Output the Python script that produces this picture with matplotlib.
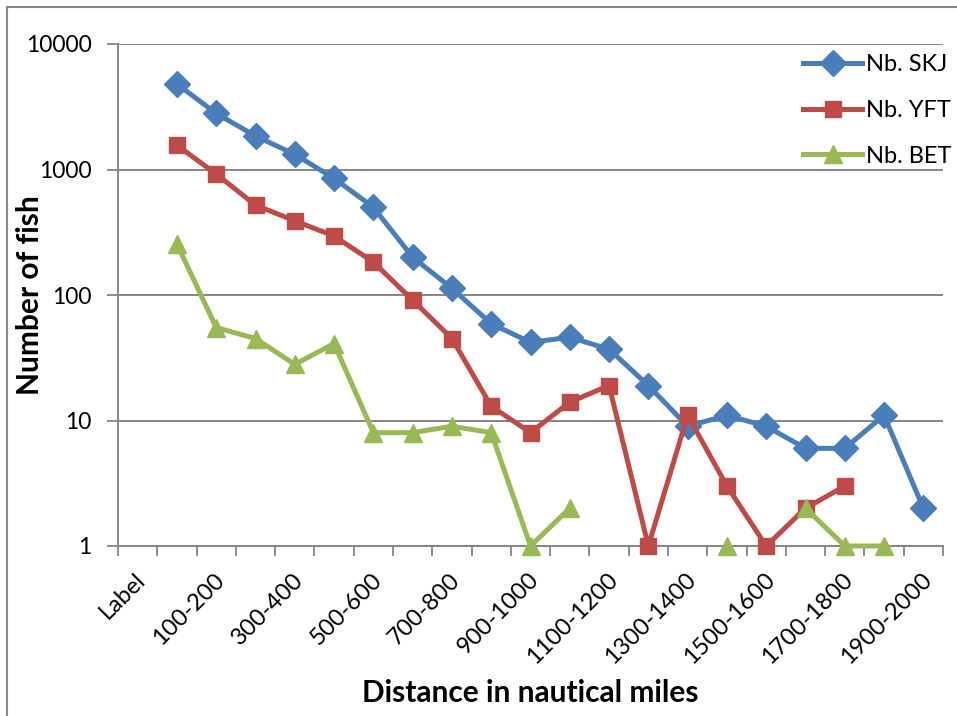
import numpy as np
import matplotlib
matplotlib.use("Agg")
import matplotlib.pyplot as plt
from matplotlib.patches import Rectangle
from matplotlib.transforms import ScaledTranslation

plt.rcParams['font.family'] = ['Lato', 'DejaVu Sans']

categories = ["Label", "0-100", "100-200", "200-300", "300-400", "400-500",
              "500-600", "600-700", "700-800", "800-900", "900-1000",
              "1000-1100", "1100-1200", "1200-1300", "1300-1400", "1400-1500",
              "1500-1600", "1600-1700", "1700-1800", "1800-1900", "1900-2000"]

nan = np.nan
nb_skj = [nan, 4800, 2800, 1850, 1320, 850, 500, 200, 113, 59, 42,
          46, 37, 19, 9, 11, 9, 6, 6, 11, 2]
nb_yft = [nan, 1560, 920, 520, 390, 295, 183, 91, 45, 13, 8,
          14, 19, 1, 11, 3, 1, 2, 3, nan, nan]
nb_bet = [nan, 255, 55, 45, 28, 41, 8, 8, 9, 8, 1,
          2, nan, nan, nan, 1, nan, 2, 1, 1, nan]

yticks = [1, 10, 100, 1000, 10000]

fig = plt.figure(figsize=(9.57, 7.16), dpi=100)
ax = fig.add_axes([118/957, 1 - 546/716, (943 - 118)/957, (546 - 44)/716])

x = np.arange(len(categories))
series = [
    (nb_skj, "Nb. SKJ", "#4A7EBB", "D", 13),
    (nb_yft, "Nb. YFT", "#BE4B48", "s", 12),
    (nb_bet, "Nb. BET", "#98B954", "^", 13),
]
for vals, label, color, marker, ms in series:
    ax.plot(x, vals, color=color, lw=3.6, marker=marker, ms=ms,
            markeredgecolor=color, label=label, clip_on=False, zorder=3)

ax.set_yscale("log")
ax.set_ylim(1, 10000)
ax.set_yticks(yticks)
ax.set_yticklabels([str(v) for v in yticks])
ax.yaxis.set_minor_locator(matplotlib.ticker.NullLocator())
ax.set_xlim(-0.5, len(categories) - 0.5)

# category boundary ticks, labels on every other category
ax.set_xticks(np.arange(len(categories) + 1) - 0.5)
ax.set_xticklabels([])
ax.set_xticks(x[::2], minor=True)
ax.set_xticklabels(categories[::2], minor=True, rotation=45,
                   ha="right", va="center", rotation_mode="anchor", fontsize=17)
ax.tick_params(axis="x", which="major", length=7, width=1.3, color="#868686",
               direction="out")
ax.tick_params(axis="x", which="minor", length=0, pad=22)
ax.tick_params(axis="y", length=8, width=1.3, color="#868686", labelsize=16.5,
               pad=11)
shift = ScaledTranslation(5 / 100, 0, fig.dpi_scale_trans)
for lbl in ax.xaxis.get_minorticklabels():
    lbl.set_transform(lbl.get_transform() + shift)

ax.grid(axis="y", color="#868686", lw=1.4)
ax.set_axisbelow(True)
for s in ["top", "right"]:
    ax.spines[s].set_visible(False)
for s in ["left", "bottom"]:
    ax.spines[s].set_color("#868686")
    ax.spines[s].set_linewidth(1.4)

ax.set_ylabel("Number of fish", fontsize=21.5, fontweight="bold")
ax.yaxis.set_label_coords((30 - 118) / 825, 0.5)
ax.set_xlabel("Distance in nautical miles", fontsize=21.5, fontweight="bold")
ax.xaxis.set_label_coords(0.5, -(693 - 546) / 502)
ax.xaxis.label.set_va("center")
ax.yaxis.label.set_va("center")

leg = ax.legend(loc="upper left", bbox_to_anchor=((803 - 118) / 825, 1 - 10 / 502),
                frameon=False, fontsize=17, handlelength=2.5, handletextpad=0.15,
                labelspacing=1.05, borderaxespad=0.0, borderpad=0.0)

fig.add_artist(Rectangle((7/957, -0.5), 2, 1.5 - 7/716, transform=fig.transFigure,
                         fill=False, edgecolor="#868686", lw=1.5, clip_on=False))

fig.savefig("out.png", dpi=100)
